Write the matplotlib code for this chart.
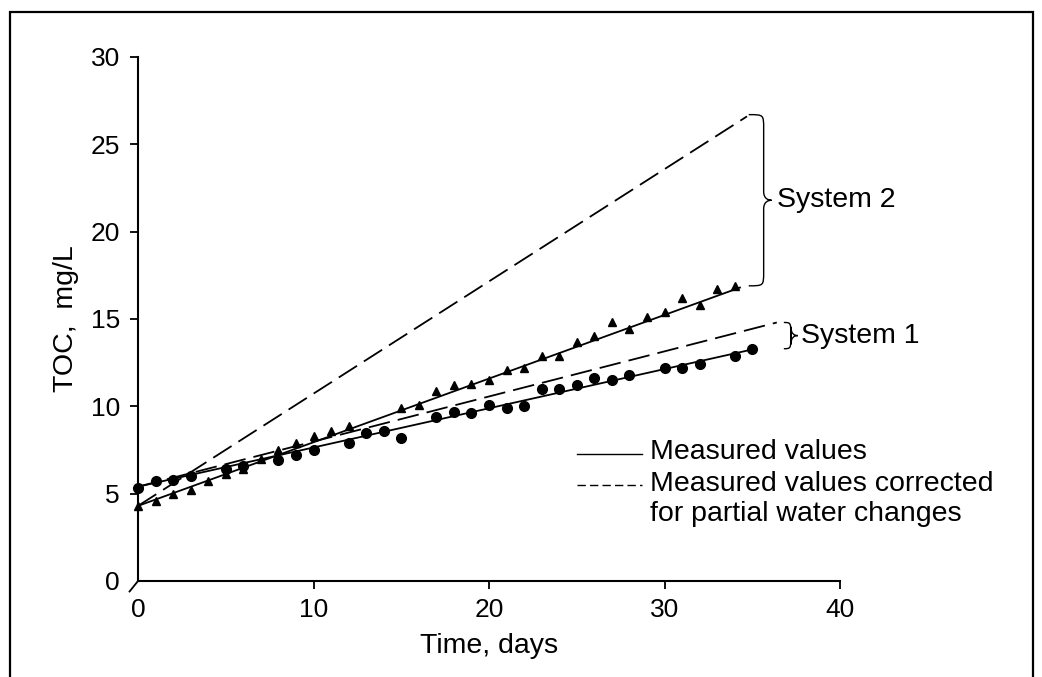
import numpy as np
import matplotlib.pyplot as plt
from matplotlib.path import Path
from matplotlib.patches import PathPatch, Rectangle

plt.rcParams['font.family'] = ['Liberation Sans', 'DejaVu Sans']

# System 1 (circles)
days_s1 = [0, 1, 2, 3, 5, 6, 8, 9, 10, 12, 13, 14, 15, 17, 18, 19, 20, 21, 22,
           23, 24, 25, 26, 27, 28, 30, 31, 32, 34, 35]
toc_s1 = [5.3, 5.7, 5.8, 6.0, 6.4, 6.6, 6.9, 7.2, 7.5, 7.9, 8.5, 8.6, 8.2, 9.4,
          9.7, 9.6, 10.1, 9.9, 10.0, 11.0, 11.0, 11.2, 11.6, 11.5, 11.8, 12.2,
          12.2, 12.4, 12.9, 13.3]

# System 2 (triangles)
days_s2 = [0, 1, 2, 3, 4, 5, 6, 7, 8, 9, 10, 11, 12, 15, 16, 17, 18, 19, 20, 21,
           22, 23, 24, 25, 26, 27, 28, 29, 30, 31, 32, 33, 34]
toc_s2 = [4.3, 4.6, 5.0, 5.2, 5.7, 6.1, 6.4, 7.0, 7.5, 7.9, 8.3, 8.6, 8.9, 9.9,
          10.1, 10.9, 11.2, 11.3, 11.5, 12.1, 12.2, 12.9, 12.9, 13.7, 14.0,
          14.8, 14.4, 15.1, 15.4, 16.2, 15.8, 16.7, 16.9]

# fitted lines (start, end)
fit_s1_x = [0, 35.2]
fit_s1_y = [5.4, 13.3]
corr_s1_x = [0, 36.4]
corr_s1_y = [5.4, 14.8]
fit_s2_x = [0, 34.3]
fit_s2_y = [4.3, 16.8]
corr_s2_x = [0, 34.7]
corr_s2_y = [4.3, 26.6]

W, H = 1042, 677
fig = plt.figure(figsize=(W / 100, H / 100), dpi=100)
ax = fig.add_axes([138 / W, 1 - 581 / H, (840 - 138) / W, (581 - 57) / H])

fs = 20.5
lw = 1.3
dash = (12, 4.5)
ax.plot(fit_s1_x, fit_s1_y, color='black', lw=lw)
ax.plot(corr_s1_x, corr_s1_y, color='black', lw=lw, ls='--', dashes=dash)
ax.plot(fit_s2_x, fit_s2_y, color='black', lw=lw)
ax.plot(corr_s2_x, corr_s2_y, color='black', lw=lw, ls='--', dashes=dash)
ax.plot(days_s1, toc_s1, 'o', color='black', ms=7, clip_on=False)
ax.plot(days_s2, toc_s2, '^', color='black', ms=5.5, clip_on=False)


def brace(x_left, x_vert, x_tip, y_top, y_bot):
    ym = (y_top + y_bot) / 2
    r = 0.8
    verts = [(x_left, y_top),
             (x_vert, y_top), (x_vert, y_top), (x_vert, y_top - r),
             (x_vert, ym + 0.5),
             (x_vert, ym + 0.1), (x_tip - 0.2, ym), (x_tip, ym),
             (x_tip - 0.2, ym), (x_vert, ym - 0.1), (x_vert, ym - 0.5),
             (x_vert, y_bot + r),
             (x_vert, y_bot), (x_vert, y_bot), (x_left, y_bot)]
    codes = [Path.MOVETO,
             Path.CURVE4, Path.CURVE4, Path.CURVE4,
             Path.LINETO,
             Path.CURVE4, Path.CURVE4, Path.CURVE4,
             Path.CURVE4, Path.CURVE4, Path.CURVE4,
             Path.LINETO,
             Path.CURVE4, Path.CURVE4, Path.CURVE4]
    ax.add_patch(PathPatch(Path(verts, codes), fill=False, lw=1.0,
                           color='black', clip_on=False))


brace(34.8, 35.65, 36.1, corr_s2_y[1] + 0.1, fit_s2_y[1] + 0.1)
brace(36.8, 37.2, 37.6, corr_s1_y[1], fit_s1_y[1])
ax.text(36.4, (corr_s2_y[1] + fit_s2_y[1]) / 2 + 0.1, 'System 2', fontsize=fs,
        va='center', ha='left')
ax.text(37.8, (corr_s1_y[1] + fit_s1_y[1]) / 2, 'System 1', fontsize=fs,
        va='center', ha='left')

# legend drawn by hand
ax.plot([0.625, 0.718], [0.243, 0.243], transform=ax.transAxes,
        color='black', lw=1.0)
ax.plot([0.625, 0.718], [0.183, 0.183], transform=ax.transAxes,
        color='black', lw=1.0, ls='--', dashes=(6, 3))
ax.text(0.729, 0.246, 'Measured values', transform=ax.transAxes,
        fontsize=fs, va='center')
ax.text(0.729, 0.186, 'Measured values corrected', transform=ax.transAxes,
        fontsize=fs, va='center')
ax.text(0.729, 0.128, 'for partial water changes', transform=ax.transAxes,
        fontsize=fs, va='center')

ax.set_xlim(0, 40)
ax.set_ylim(0, 30)
ax.set_xticks([0, 10, 20, 30, 40])
ax.set_yticks([0, 5, 10, 15, 20, 25, 30])
ax.spines['top'].set_visible(False)
ax.spines['right'].set_visible(False)
for s in ['left', 'bottom']:
    ax.spines[s].set_linewidth(1.5)
ax.tick_params(axis='both', direction='out', length=6, width=1.3,
               labelsize=19)
ax.tick_params(axis='x', pad=6)
ax.tick_params(axis='y', pad=7)
ax.xaxis.get_major_ticks()[0].tick1line.set_visible(False)
ax.yaxis.get_major_ticks()[0].tick1line.set_visible(False)
ax.plot([0, -0.012], [0, -0.02], transform=ax.transAxes, color='black',
        lw=1.3, clip_on=False)

ax.set_xlabel('Time, days', fontsize=fs, labelpad=8)
ax.set_ylabel('TOC,  mg/L', fontsize=fs, labelpad=8)

# outer frame
fig.add_artist(Rectangle((10 / W, -0.05), (1033 - 10) / W, 1.05 - 12 / H,
                         transform=fig.transFigure, fill=False, lw=1.6,
                         color='black'))

fig.savefig('out.png', dpi=100)
